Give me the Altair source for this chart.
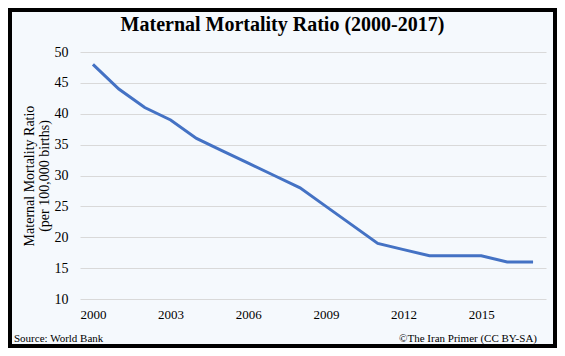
import altair as alt
import pandas as pd

years = list(range(2000, 2018))
mmr = [48, 44, 41, 39, 36, 34, 32, 30, 28, 25, 22, 19, 18, 17, 17, 17, 16, 16]
x_ticks = [2000, 2003, 2006, 2009, 2012, 2015]
y_ticks = [10, 15, 20, 25, 30, 35, 40, 45, 50]
title_text = "Maternal Mortality Ratio (2000-2017)"
y_title = ["Maternal Mortality Ratio", "(per 100,000  births)"]
source_text = "Source:  World Bank"
credit_text = "©The Iran Primer (CC BY-SA)"

W, H = 466, 247
PL, PT, PR, PB = 72, 44, 11, 49
FONT = "Liberation Serif"

df = pd.DataFrame({"year": years, "mmr": mmr})

line = alt.Chart(df).mark_line(color="#4472C4", strokeWidth=3).encode(
    x=alt.X("year:Q",
            scale=alt.Scale(domain=[1999.5, 2017.5], nice=False, zero=False),
            axis=alt.Axis(values=x_ticks, format="d", title=None, grid=False, ticks=False,
                          domain=False, labelPadding=9, labelFont=FONT, labelFontSize=13,
                          labelColor="black", labelFlush=False)),
    y=alt.Y("mmr:Q",
            scale=alt.Scale(domain=[10, 50], nice=False, zero=False),
            axis=alt.Axis(values=y_ticks, title=y_title, grid=True, gridColor="#D9D9D9",
                          gridWidth=1, ticks=False, domain=False, labelPadding=12,
                          labelFont=FONT, labelFontSize=14, labelColor="black",
                          titleFont=FONT, titleFontSize=14, titleFontWeight="normal",
                          titleColor="black", titlePadding=3, titleLineHeight=15)),
)

border = alt.Chart(pd.DataFrame({"a": [0]})).mark_rect(
    fillOpacity=0, stroke="black", strokeWidth=4
).encode(
    x=alt.value(-PL + 2), x2=alt.value(W + PR - 2),
    y=alt.value(-PT + 2), y2=alt.value(H + PB - 2),
)

title = alt.Chart(pd.DataFrame({"t": [title_text]})).mark_text(
    font=FONT, fontSize=20, fontWeight="bold", color="black", align="center", baseline="middle"
).encode(text="t:N", x=alt.value((W + PL + PR) / 2 - PL), y=alt.value(17 - PT))

source = alt.Chart(pd.DataFrame({"t": [source_text]})).mark_text(
    font=FONT, fontSize=11, color="black", align="left", baseline="middle"
).encode(text="t:N", x=alt.value(6 - PL), y=alt.value(H + 40))

credit = alt.Chart(pd.DataFrame({"t": [credit_text]})).mark_text(
    font=FONT, fontSize=11, color="black", align="right", baseline="middle"
).encode(text="t:N", x=alt.value(W - 9), y=alt.value(H + 40))

chart = alt.layer(line, border, title, source, credit).properties(
    width=W, height=H,
    autosize=alt.AutoSizeParams(type="none"),
    padding={"left": PL, "top": PT, "right": PR, "bottom": PB},
).configure(background="#F5F9FD").configure_view(stroke=None)

chart.save("out.html", embed_options={"renderer": "svg", "actions": False})
